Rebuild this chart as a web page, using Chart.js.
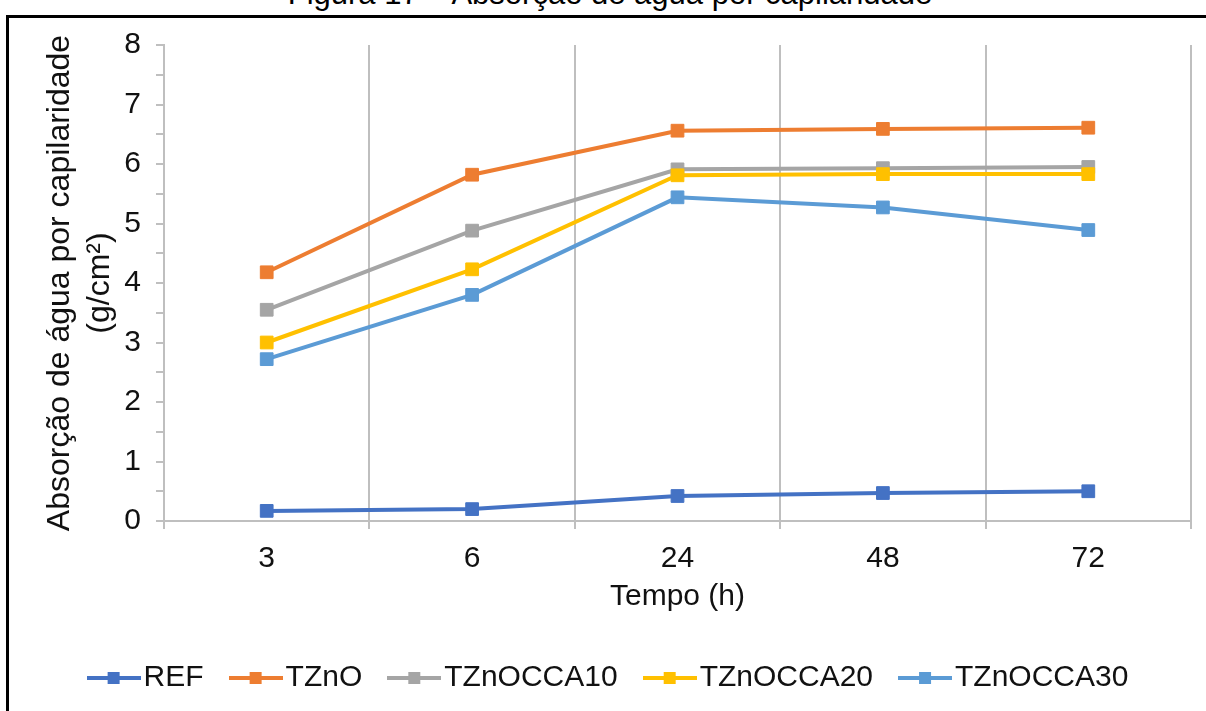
<!DOCTYPE html>
<html>
<head>
<meta charset="utf-8">
<script src="https://cdn.jsdelivr.net/npm/chart.js@4.4.0/dist/chart.umd.min.js"></script>
<style>
  body { margin: 0; background: #fff; overflow: hidden; }
  #wrap { position: relative; width: 1206px; height: 711px; overflow: hidden; }
  #frame { position: absolute; left: 6px; top: 15px; width: 1220px; height: 720px; border: 3px solid #000; }
  #caption { position: absolute; left: 0; width: 1220px; top: -22px; text-align: center;
    font: 31px "Liberation Sans", Arial, sans-serif; line-height: 31px; color: #000; }
  #chart { position: absolute; left: 0; top: 0; }
</style>
</head>
<body>
<div id="wrap">
  <div id="caption">Figura 17 – Absorção de água por capilaridade</div>
  <div id="frame"></div>
  <canvas id="chart" width="1206" height="711"></canvas>
</div>
<script>
// data
const categories = ["3", "6", "24", "48", "72"];
const seriesNames = ["REF", "TZnO", "TZnOCCA10", "TZnOCCA20", "TZnOCCA30"];
const refValues = [0.17, 0.2, 0.42, 0.47, 0.5];
const tznoValues = [4.18, 5.82, 6.56, 6.59, 6.61];
const occa10Values = [3.55, 4.88, 5.91, 5.93, 5.95];
const occa20Values = [3.0, 4.23, 5.81, 5.83, 5.83];
const occa30Values = [2.72, 3.8, 5.44, 5.27, 4.89];
const colors = ["#4472C4", "#ED7D31", "#A5A5A5", "#FFC000", "#5B9BD5"];

const allValues = [refValues, tznoValues, occa10Values, occa20Values, occa30Values];
const font = "'Liberation Sans', Arial, sans-serif";
const gridGray = "#BFBFBF";

// legend marker: line with a square in the middle (Excel style)
function legendMarker(color) {
  const c = document.createElement("canvas");
  c.width = 54;
  c.height = 14;
  const g = c.getContext("2d");
  g.fillStyle = color;
  g.fillRect(0, 5, 54, 4);
  g.fillRect(21, 1, 12, 12);
  return c;
}
const markers = colors.map(legendMarker);

const datasets = seriesNames.map((name, i) => ({
  label: name,
  data: allValues[i],
  borderColor: colors[i],
  backgroundColor: colors[i],
  borderWidth: 4,
  pointStyle: "rect",
  pointRadius: 9,
  pointHoverRadius: 9,
  pointBorderWidth: 1,
  pointBorderColor: colors[i],
  pointBackgroundColor: colors[i],
  tension: 0,
  order: seriesNames.length - i, // later series drawn on top, like Excel
}));

new Chart(document.getElementById("chart"), {
  type: "line",
  data: { labels: categories, datasets: datasets },
  options: {
    responsive: false,
    animation: false,
    layout: { padding: { left: 36, top: 45, right: 15, bottom: 8 } },
    scales: {
      x: {
        offset: true,
        grid: { offset: true, color: gridGray, lineWidth: 2, tickLength: 8, tickColor: gridGray },
        border: { color: gridGray, width: 2 },
        ticks: { color: "#111", padding: 12, font: { family: font, size: 30 } },
        title: {
          display: true,
          text: "Tempo (h)",
          color: "#111",
          font: { family: font, size: 30 },
          padding: { top: 0, bottom: 11 },
        },
        afterFit: (scale) => { scale.height = 105; },
      },
      y: {
        min: 0,
        max: 8,
        grid: { drawOnChartArea: false, color: gridGray, lineWidth: 2, tickLength: 8 },
        border: { color: gridGray, width: 2 },
        ticks: {
          stepSize: 0.5,
          autoSkip: false,
          color: "#111",
          padding: 15,
          font: { family: font, size: 30 },
          callback: (v) => (Number.isInteger(v) ? v : ""),
        },
        title: {
          display: true,
          text: ["Absorção de água por capilaridade", "(g/cm²)"],
          color: "#111",
          font: { family: font, size: 32, lineHeight: 1.25 },
          padding: { top: 4, bottom: 0 },
        },
        afterFit: (scale) => { scale.width = 128; },
      },
    },
    plugins: {
      legend: {
        position: "bottom",
        labels: {
          usePointStyle: true,
          pointStyleWidth: 30,
          padding: 37,
          color: "#111",
          font: { family: font, size: 30 },
          sort: (a, b) => a.datasetIndex - b.datasetIndex,
          generateLabels: (chart) =>
            Chart.defaults.plugins.legend.labels.generateLabels(chart).map((item) => {
              item.pointStyle = markers[item.datasetIndex];
              return item;
            }),
        },
      },
      tooltip: { enabled: false },
    },
  },
});
</script>
</body>
</html>
